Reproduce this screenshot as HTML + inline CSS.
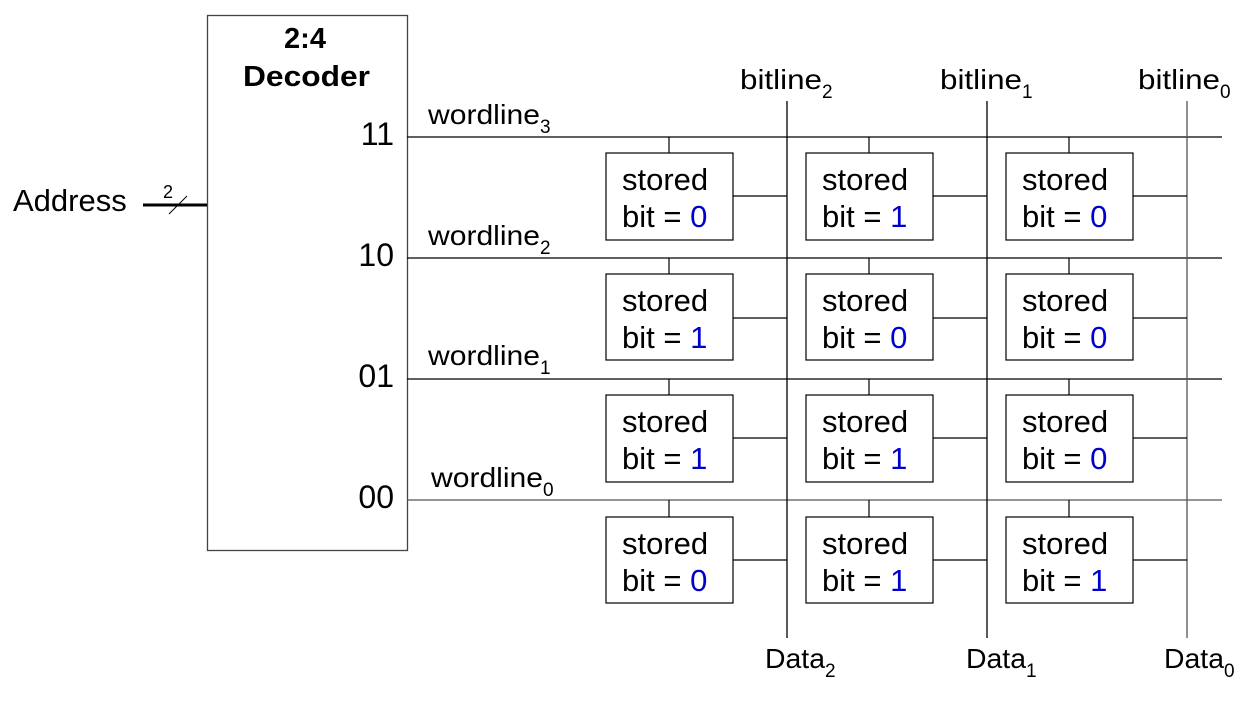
<!DOCTYPE html>
<html><head><meta charset="utf-8"><style>
html,body{margin:0;padding:0;background:#fff;}
svg{display:block;}
text{font-family:"Liberation Sans",Arial,sans-serif;fill:#000;}
.b{fill:#0000cc;}
</style></head><body>
<svg width="1256" height="702" viewBox="0 0 1256 702" xmlns="http://www.w3.org/2000/svg">
<g stroke="#000" stroke-width="1.3" fill="none">
<rect x="207.5" y="15.5" width="200" height="535" stroke="#444"/>
<line x1="407" y1="137" x2="1222" y2="137"/>
<line x1="407" y1="258" x2="1222" y2="258"/>
<line x1="407" y1="379" x2="1222" y2="379"/>
<line x1="407" y1="500" x2="1222" y2="500" stroke="#555"/>
<line x1="787" y1="101" x2="787" y2="638"/>
<line x1="987" y1="101" x2="987" y2="638"/>
<line x1="1187" y1="101" x2="1187" y2="638" stroke="#555"/>
<line x1="143" y1="205" x2="207" y2="205" stroke-width="3"/>
<line x1="169" y1="214" x2="187" y2="196" stroke-width="1"/>
</g>
<g stroke="#000" stroke-width="1.2" fill="#fff">
<line x1="669" y1="137" x2="669" y2="153"/><rect x="606" y="153" width="127" height="87"/><line x1="733" y1="196" x2="787" y2="196"/>
<line x1="869" y1="137" x2="869" y2="153"/><rect x="806" y="153" width="127" height="87"/><line x1="933" y1="196" x2="987" y2="196"/>
<line x1="1069" y1="137" x2="1069" y2="153"/><rect x="1006" y="153" width="127" height="87"/><line x1="1133" y1="196" x2="1187" y2="196"/>
<line x1="669" y1="258" x2="669" y2="274"/><rect x="606" y="274" width="127" height="86"/><line x1="733" y1="318" x2="787" y2="318"/>
<line x1="869" y1="258" x2="869" y2="274"/><rect x="806" y="274" width="127" height="86"/><line x1="933" y1="318" x2="987" y2="318"/>
<line x1="1069" y1="258" x2="1069" y2="274"/><rect x="1006" y="274" width="127" height="86"/><line x1="1133" y1="318" x2="1187" y2="318"/>
<line x1="669" y1="379" x2="669" y2="395"/><rect x="606" y="395" width="127" height="87"/><line x1="733" y1="438" x2="787" y2="438"/>
<line x1="869" y1="379" x2="869" y2="395"/><rect x="806" y="395" width="127" height="87"/><line x1="933" y1="438" x2="987" y2="438"/>
<line x1="1069" y1="379" x2="1069" y2="395"/><rect x="1006" y="395" width="127" height="87"/><line x1="1133" y1="438" x2="1187" y2="438"/>
<line x1="669" y1="500" x2="669" y2="517"/><rect x="606" y="517" width="127" height="86"/><line x1="733" y1="560" x2="787" y2="560"/>
<line x1="869" y1="500" x2="869" y2="517"/><rect x="806" y="517" width="127" height="86"/><line x1="933" y1="560" x2="987" y2="560"/>
<line x1="1069" y1="500" x2="1069" y2="517"/><rect x="1006" y="517" width="127" height="86"/><line x1="1133" y1="560" x2="1187" y2="560"/>
</g>
<g font-size="31">
<text x="622" y="190">stored</text><text x="622" y="227">bit = <tspan class="b">0</tspan></text>
<text x="822" y="190">stored</text><text x="822" y="227">bit = <tspan class="b">1</tspan></text>
<text x="1022" y="190">stored</text><text x="1022" y="227">bit = <tspan class="b">0</tspan></text>
<text x="622" y="311">stored</text><text x="622" y="348">bit = <tspan class="b">1</tspan></text>
<text x="822" y="311">stored</text><text x="822" y="348">bit = <tspan class="b">0</tspan></text>
<text x="1022" y="311">stored</text><text x="1022" y="348">bit = <tspan class="b">0</tspan></text>
<text x="622" y="432">stored</text><text x="622" y="469">bit = <tspan class="b">1</tspan></text>
<text x="822" y="432">stored</text><text x="822" y="469">bit = <tspan class="b">1</tspan></text>
<text x="1022" y="432">stored</text><text x="1022" y="469">bit = <tspan class="b">0</tspan></text>
<text x="622" y="554">stored</text><text x="622" y="591">bit = <tspan class="b">0</tspan></text>
<text x="822" y="554">stored</text><text x="822" y="591">bit = <tspan class="b">1</tspan></text>
<text x="1022" y="554">stored</text><text x="1022" y="591">bit = <tspan class="b">1</tspan></text>
</g>
<g font-size="28">
<text x="428" y="124"><tspan textLength="112" lengthAdjust="spacingAndGlyphs">wordline</tspan><tspan font-size="19" dy="9">3</tspan></text>
<text x="428" y="245"><tspan textLength="112" lengthAdjust="spacingAndGlyphs">wordline</tspan><tspan font-size="19" dy="9">2</tspan></text>
<text x="428" y="365"><tspan textLength="112" lengthAdjust="spacingAndGlyphs">wordline</tspan><tspan font-size="19" dy="9">1</tspan></text>
<text x="431" y="487"><tspan textLength="112" lengthAdjust="spacingAndGlyphs">wordline</tspan><tspan font-size="19" dy="9">0</tspan></text>
<text x="740" y="89"><tspan textLength="82" lengthAdjust="spacingAndGlyphs">bitline</tspan><tspan font-size="19" dy="9">2</tspan></text>
<text x="940" y="89"><tspan textLength="82" lengthAdjust="spacingAndGlyphs">bitline</tspan><tspan font-size="19" dy="9">1</tspan></text>
<text x="1138" y="89"><tspan textLength="82" lengthAdjust="spacingAndGlyphs">bitline</tspan><tspan font-size="19" dy="9">0</tspan></text>
<text x="765" y="668"><tspan textLength="60" lengthAdjust="spacingAndGlyphs">Data</tspan><tspan font-size="19" dy="9">2</tspan></text>
<text x="966" y="668"><tspan textLength="60" lengthAdjust="spacingAndGlyphs">Data</tspan><tspan font-size="19" dy="9">1</tspan></text>
<text x="1164" y="668"><tspan textLength="60" lengthAdjust="spacingAndGlyphs">Data</tspan><tspan font-size="19" dy="9">0</tspan></text>
<text x="394" y="145" font-size="32" text-anchor="end">11</text>
<text x="394" y="266" font-size="32" text-anchor="end">10</text>
<text x="394" y="387" font-size="32" text-anchor="end">01</text>
<text x="394" y="508" font-size="32" text-anchor="end">00</text>
<text x="13" y="211" font-size="31">Address</text>
<text x="305" y="48" font-size="29" font-weight="bold" text-anchor="middle">2:4</text>
<text x="243" y="86" font-size="29" font-weight="bold" textLength="127" lengthAdjust="spacingAndGlyphs">Decoder</text>
</g>
<text x="163" y="198" font-size="18">2</text>
</svg>
</body></html>
